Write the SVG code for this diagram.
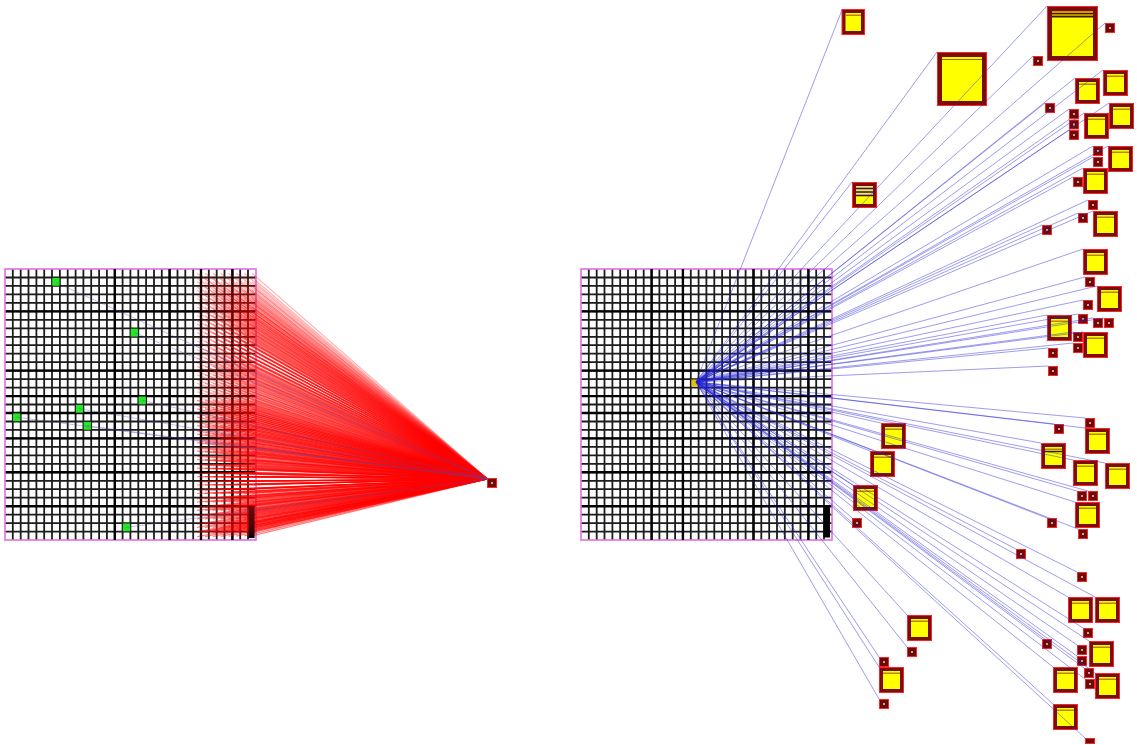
<svg xmlns="http://www.w3.org/2000/svg" xmlns:xlink="http://www.w3.org/1999/xlink" width="1137" height="745" viewBox="0 0 1137 745">
<style>
.gl{fill:none;stroke:#1c1c1c;stroke-width:1.8}
.gk{fill:none;stroke:#000;stroke-width:2.4}
.gb{fill:none;stroke:#e070e0;stroke-width:1.6}
.cell{fill:#24e824}
.red{fill:none;stroke:#ff0000;stroke-width:1.2;vector-effect:non-scaling-stroke}
.blue{fill:none;stroke:#2626d6;stroke-width:1;stroke-opacity:.45}
.faint{fill:none;stroke:#4a4ab8;stroke-width:1;stroke-opacity:.35}
.ob{fill:#7b0c0c;stroke:#ff2222;stroke-width:1}
.yl{fill:#ffff00}
.bd{fill:none;stroke:#a8650c;stroke-width:1.2}
.dk{fill:none;stroke:#3a1a00;stroke-width:1.5}
.sm{fill:#6c0a0a;stroke:#ff2222;stroke-width:1}
.dot{fill:#d79a9a}
</style>
<defs>
  <linearGradient id="barGrad" x1="0" y1="0" x2="0" y2="1">
    <stop offset="0" stop-color="#6a0a0a"/>
    <stop offset="0.6" stop-color="#4a0505"/>
    <stop offset="1" stop-color="#000"/>
  </linearGradient>
  <!-- 32 x 32 cell grid, 251 x 271 -->
  <g id="grid">
    <path class="gl" d="M12.8 269V540M20.7 269V540M28.5 269V540M36.4 269V540M44.2 269V540M52 269V540M59.9 269V540M67.7 269V540M75.6 269V540M83.4 269V540M91.2 269V540M99.1 269V540M106.9 269V540M114.8 269V540M122.6 269V540M130.4 269V540M138.3 269V540M146.1 269V540M154 269V540M161.8 269V540M169.6 269V540M177.5 269V540M185.3 269V540M193.2 269V540M201 269V540M208.8 269V540M216.7 269V540M224.5 269V540M232.4 269V540M240.2 269V540M248 269V540"/>
    <path class="gl" d="M5 277.5H256M5 285.9H256M5 294.4H256M5 302.9H256M5 311.4H256M5 319.8H256M5 328.3H256M5 336.8H256M5 345.2H256M5 353.7H256M5 362.2H256M5 370.6H256M5 379.1H256M5 387.6H256M5 396.1H256M5 404.5H256M5 413H256M5 421.5H256M5 429.9H256M5 438.4H256M5 446.9H256M5 455.3H256M5 463.8H256M5 472.3H256M5 480.8H256M5 489.2H256M5 497.7H256M5 506.2H256M5 514.6H256M5 523.1H256M5 531.6H256"/>
    <path class="gk" d="M5 311.4H256M5 370.6H256M5 396.1H256M5 413H256M5 438.4H256M5 472.3H256M5 506.2H256"/>
    <rect class="gb" x="5" y="269" width="251" height="271"/>
  </g>
  <g id="box">
    <rect class="ob" x="0.5" y="0.5" width="24" height="25"/>
    <rect class="yl" x="4" y="4" width="17" height="18"/>
    <path class="bd" d="M4 6.2H21"/>
  </g>
  <g id="sm">
    <rect class="sm" x="0.5" y="0.5" width="9" height="9"/>
    <rect class="dot" x="4" y="4" width="2" height="2"/>
  </g>
  <!-- links from the last grid column to the collector node -->
  <path id="fanA" class="red" d="M252 273.2L487.5 479M252 281.7L487.5 479M252 290.2L487.5 479M252 298.6L487.5 479M252 307.1L487.5 479M252 315.6L487.5 479M252 324.1L487.5 479M252 332.5L487.5 479M252 341L487.5 479M252 349.5L487.5 479M252 357.9L487.5 479M252 366.4L487.5 479M252 374.9L487.5 479M252 383.4L487.5 479M252 391.8L487.5 479"/>
  <path id="fanB" class="red" d="M252 400.3L487.5 479M252 408.8L487.5 479M252 417.2L487.5 479M252 425.7L487.5 479M252 434.2L487.5 479M252 442.7L487.5 479M252 451.1L487.5 479M252 459.6L487.5 479M252 468.1L487.5 479M252 476.6L487.5 479M252 485L487.5 479M252 493.5L487.5 479M252 502L487.5 479M252 510.4L487.5 479M252 518.9L487.5 479M252 527.4L487.5 479M252 531.6L487.5 479"/>
  <!-- one set per source column (cols 24..31), all ending at the collector -->
  <g id="fanColsA">
    <use href="#fanA"/>
    <use href="#fanA" transform="matrix(1.0331 0 0 1 -16.1 0)"/>
    <use href="#fanA" transform="matrix(1.0667 0 0 1 -32.5 0)"/>
    <use href="#fanA" transform="matrix(1.0998 0 0 1 -48.7 0)"/>
    <use href="#fanA" transform="matrix(1.1333 0 0 1 -65 0)"/>
    <use href="#fanA" transform="matrix(1.1665 0 0 1 -81.2 0)"/>
    <use href="#fanA" transform="matrix(1.2 0 0 1 -97.5 0)"/>
    <use href="#fanA" transform="matrix(1.2331 0 0 1 -113.6 0)"/>
  </g>
  <g id="fanColsB">
    <use href="#fanB"/>
    <use href="#fanB" transform="matrix(1.0331 0 0 1 -16.1 0)"/>
    <use href="#fanB" transform="matrix(1.0667 0 0 1 -32.5 0)"/>
    <use href="#fanB" transform="matrix(1.0998 0 0 1 -48.7 0)"/>
    <use href="#fanB" transform="matrix(1.1333 0 0 1 -65 0)"/>
    <use href="#fanB" transform="matrix(1.1665 0 0 1 -81.2 0)"/>
    <use href="#fanB" transform="matrix(1.2 0 0 1 -97.5 0)"/>
    <use href="#fanB" transform="matrix(1.2331 0 0 1 -113.6 0)"/>
  </g>
</defs>

<rect width="1137" height="745" fill="#fff"/>

<!-- left grid -->
<g id="grid-left">
  <use href="#grid"/>
  <path class="gk" d="M114.8 269V540M169.6 269V540M201 269V540M232.4 269V540"/>
  <rect class="cell" x="52.3" y="277.9" width="7.2" height="7.8"/>
  <rect class="cell" x="130.7" y="328.7" width="7.2" height="7.8"/>
  <rect class="cell" x="138.6" y="396.5" width="7.2" height="7.8"/>
  <rect class="cell" x="75.9" y="404.9" width="7.2" height="7.8"/>
  <rect class="cell" x="13.1" y="413.4" width="7.2" height="7.8"/>
  <rect class="cell" x="83.7" y="421.9" width="7.2" height="7.8"/>
  <rect class="cell" x="122.9" y="523.5" width="7.2" height="7.8"/>
</g>

<!-- right grid -->
<g id="grid-right">
  <use href="#grid" x="576"/>
  <path class="gk" d="M651.6 269V540M682.9 269V540M753.5 269V540M808.4 269V540"/>
  <rect x="691.5" y="379.5" width="6" height="7" fill="#e2c400"/>
</g>

<!-- target nodes -->
<g id="nodes">
  <g id="n01"><rect class="ob" x="842" y="9.5" width="22.5" height="25"/><rect class="yl" x="845.5" y="13" width="15.5" height="18"/><path class="bd" d="M845.5 15.2H861"/></g>
  <g id="n02"><rect class="ob" x="937.5" y="52.5" width="49" height="53"/><rect class="yl" x="942" y="57" width="40" height="44"/><path class="bd" d="M942 59.5H982"/></g>
  <g id="n03"><rect class="ob" x="1047.5" y="6.5" width="50" height="54"/><rect class="yl" x="1052" y="11" width="41" height="45"/><rect x="1052" y="11" width="41" height="2" fill="#d49a00"/><path class="dk" d="M1052 13.8H1093"/><path d="M1052 15.3H1093" stroke="#c89000" stroke-width="1.2"/><path class="dk" d="M1052 16.7H1093" stroke-width="1.1"/></g>
  <g id="n04"><use href="#sm" x="1105" y="23"/></g>
  <g id="n05"><use href="#sm" x="1033" y="56"/></g>
  <g id="n06"><use href="#box" x="1075" y="78"/></g>
  <g id="n07"><use href="#box" x="1103" y="70"/></g>
  <g id="n08"><use href="#sm" x="1045" y="103"/></g>
  <g id="n09"><use href="#sm" x="1069" y="109"/></g>
  <g id="n10"><use href="#sm" x="1069" y="119.5"/></g>
  <g id="n11"><use href="#sm" x="1069" y="130"/></g>
  <g id="n12"><use href="#box" x="1084" y="113"/></g>
  <g id="n13"><use href="#box" x="1109" y="103"/></g>
  <g id="n14"><use href="#sm" x="1093" y="146"/></g>
  <g id="n15"><use href="#sm" x="1093" y="157"/></g>
  <g id="n16"><use href="#box" x="1108" y="146"/></g>
  <g id="n17"><use href="#sm" x="1073" y="177"/></g>
  <g id="n18"><use href="#box" x="1083" y="168"/></g>
  <g id="n19"><rect class="ob" x="852.5" y="182.5" width="24" height="25"/><rect class="yl" x="856" y="186" width="17" height="18"/><rect x="856" y="186" width="17" height="10" fill="#ebdf8c"/><path class="dk" d="M856 188.6H873M856 192.1H873M856 195.6H873"/></g>
  <g id="n20"><use href="#sm" x="1088" y="200"/></g>
  <g id="n21"><use href="#sm" x="1078" y="213"/></g>
  <g id="n22"><use href="#sm" x="1042" y="225"/></g>
  <g id="n23"><use href="#box" x="1093" y="211"/></g>
  <g id="n24"><use href="#box" x="1083" y="249"/></g>
  <g id="n25"><use href="#sm" x="1085" y="277"/></g>
  <g id="n26"><use href="#box" x="1097" y="286"/></g>
  <g id="n27"><use href="#sm" x="1083" y="300"/></g>
  <g id="n28"><use href="#sm" x="1078" y="314"/></g>
  <g id="n29"><use href="#sm" x="1093" y="318"/></g>
  <g id="n30"><use href="#sm" x="1104" y="318"/></g>
  <g id="n31"><use href="#box" x="1047" y="315"/></g>
  <g id="n32"><use href="#sm" x="1073" y="332"/></g>
  <g id="n33"><use href="#sm" x="1073" y="343"/></g>
  <g id="n34"><use href="#box" x="1083" y="332"/></g>
  <g id="n35"><use href="#sm" x="1048" y="348"/></g>
  <g id="n36"><use href="#sm" x="1048" y="366"/></g>
  <g id="n37"><use href="#sm" x="1085" y="418"/></g>
  <g id="n38"><use href="#sm" x="1054" y="424"/></g>
  <g id="n39"><use href="#box" x="1085" y="428"/></g>
  <g id="n40"><use href="#box" x="1041" y="443"/><path class="dk" d="M1045 451.5H1062"/></g>
  <g id="n41"><use href="#box" x="881" y="423"/></g>
  <g id="n42"><use href="#box" x="870" y="451"/></g>
  <g id="n43"><use href="#box" x="1073" y="460"/></g>
  <g id="n44"><use href="#box" x="1105" y="463"/></g>
  <g id="n45"><use href="#box" x="853" y="485"/></g>
  <g id="n46"><use href="#sm" x="852" y="518"/></g>
  <g id="n47"><use href="#sm" x="1077" y="491"/></g>
  <g id="n48"><use href="#sm" x="1088" y="491"/></g>
  <g id="n49"><use href="#sm" x="1047" y="518"/></g>
  <g id="n50"><use href="#box" x="1075" y="502"/></g>
  <g id="n51"><use href="#sm" x="1078" y="529"/></g>
  <g id="n52"><use href="#sm" x="1016" y="549"/></g>
  <g id="n53"><use href="#sm" x="1077" y="572"/></g>
  <g id="n54"><use href="#box" x="1068" y="597"/></g>
  <g id="n55"><use href="#box" x="1095" y="597"/></g>
  <g id="n56"><use href="#sm" x="1083" y="628"/></g>
  <g id="n57"><use href="#box" x="907" y="615"/></g>
  <g id="n58"><use href="#sm" x="907" y="647"/></g>
  <g id="n59"><use href="#sm" x="1042" y="639"/></g>
  <g id="n60"><use href="#sm" x="1077" y="645"/></g>
  <g id="n61"><use href="#sm" x="1077" y="656"/></g>
  <g id="n62"><use href="#box" x="1089" y="641"/></g>
  <g id="n63"><use href="#sm" x="879" y="657"/></g>
  <g id="n64"><use href="#box" x="879" y="667"/></g>
  <g id="n65"><use href="#sm" x="1084" y="668"/></g>
  <g id="n66"><use href="#sm" x="1085" y="679"/></g>
  <g id="n67"><use href="#box" x="1053" y="667"/></g>
  <g id="n68"><use href="#box" x="1095" y="673"/></g>
  <g id="n69"><use href="#sm" x="879" y="699"/></g>
  <g id="n70"><use href="#box" x="1053" y="704"/></g>
  <g id="n71"><rect class="sm" x="1085.5" y="738.5" width="9" height="5"/></g>
</g>

<!-- connectors -->
<g id="connectors">
  <g id="links-left-red" stroke-opacity="0.3">
    <use href="#fanColsA"/>
    <use href="#fanColsA" transform="matrix(1 -0.01783 0 1 0 8.69)"/>
  </g>
  <g id="links-left-red-low" stroke-opacity="0.5">
    <use href="#fanColsB"/>
    <use href="#fanColsB" transform="matrix(1 -0.01783 0 1 0 8.69)"/>
  </g>
  <path id="links-left-blue" class="faint" d="M56 282.5L487.5 479M134.4 332.5L487.5 479M142.2 400.3L487.5 479M79.5 408.7L487.5 479M16.8 417.2L487.5 479M87.3 425.7L487.5 479M126.5 527.4L487.5 479"/>
  <path id="links-right" class="blue" d="M696 382L842 10M696 382L937 52M696 382L1047 6M696 382L1105 23M696 382L1033 56M696 382L1075 78M696 382L1103 70M696 382L1045 103M696 382L1069 109M696 382L1069 119.5M696 382L1069 130M696 382L1084 113M696 382L1109 103M696 382L1093 146M696 382L1093 157M696 382L1108 146M696 382L1073 177M696 382L1083 168M696 382L852 182M696 382L1088 200M696 382L1078 213M696 382L1042 225M696 382L1093 211M696 382L1083 249M696 382L1085 277M696 382L1097 286M696 382L1083 300M696 382L1078 314M696 382L1093 318M696 382L1104 318M696 382L1047 315M696 382L1073 332M696 382L1073 343M696 382L1083 332M696 382L1048 348M696 382L1048 366M696 382L1085 418M696 382L1054 424M696 382L1085 428M696 382L1041 443M696 382L881 423M696 382L870 451M696 382L1073 460M696 382L1105 463M696 382L853 485M696 382L852 518M696 382L1077 491M696 382L1088 491M696 382L1047 518M696 382L1075 502M696 382L1078 529M696 382L1016 549M696 382L1077 572M696 382L1068 597M696 382L1095 597M696 382L1083 628M696 382L907 615M696 382L907 647M696 382L1042 639M696 382L1077 645M696 382L1077 656M696 382L1089 641M696 382L879 657M696 382L879 667M696 382L1084 668M696 382L1085 679M696 382L1053 667M696 382L1095 673M696 382L879 699M696 382L1053 704M696 382L1085 738"/>
</g>

<!-- column markers and collector node -->
<rect id="bar-left" x="248.6" y="506.5" width="6" height="31.5" fill="url(#barGrad)"/>
<rect id="bar-right" x="823.5" y="505.5" width="6.5" height="32" fill="#000"/>
<g id="collector"><use href="#sm" x="487" y="478"/></g>
</svg>
